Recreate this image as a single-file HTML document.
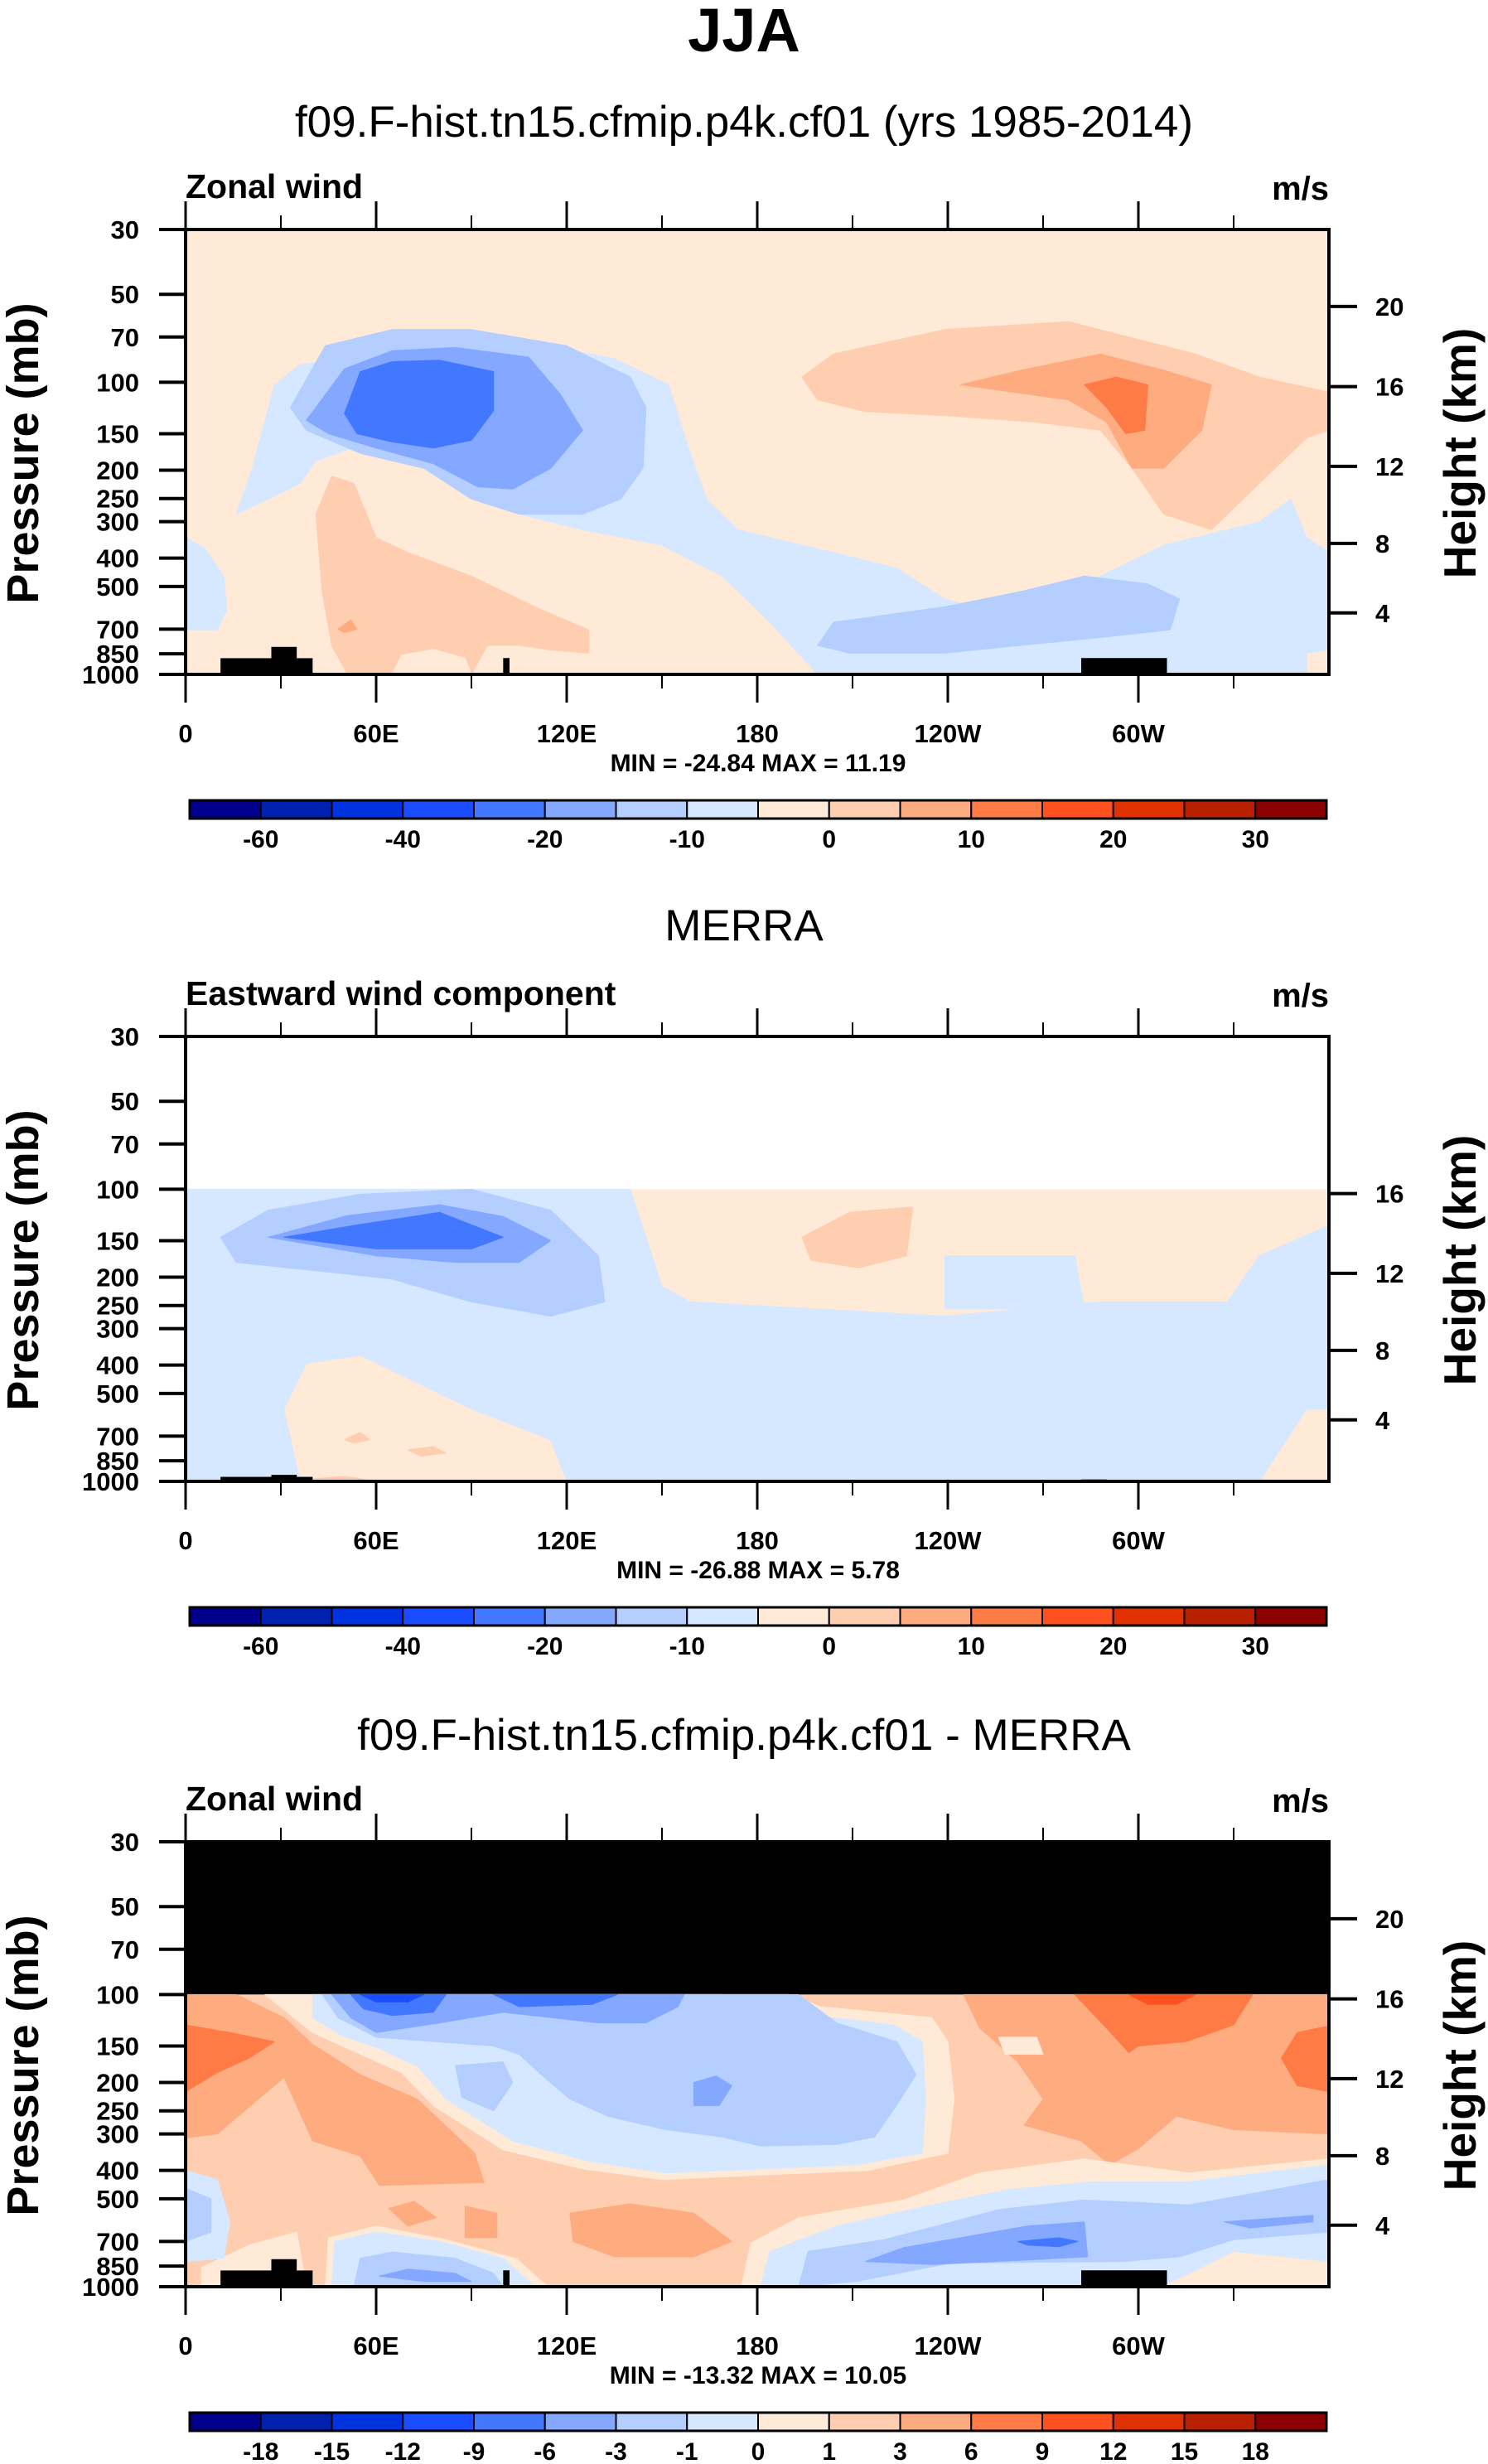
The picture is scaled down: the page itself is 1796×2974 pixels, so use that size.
<!DOCTYPE html>
<html><head><meta charset="utf-8"><title>JJA Zonal wind</title>
<style>
html,body{margin:0;padding:0;background:#fff;}
svg{display:block;font-family:"Liberation Sans",Arial,sans-serif;}
</style></head>
<body>
<svg id="fig" width="1796" height="2974" viewBox="0 0 1796 2974" xmlns="http://www.w3.org/2000/svg">
<text x="898" y="62" text-anchor="middle" font-weight="bold" font-size="74">JJA</text>
<g id="panels"></g>
</svg>
<script>
// ----- data -----
const levelColors=["#00008c","#0020b0","#0033e0","#1a4dff","#4178ff","#84a8ff","#b3ceff","#d5e8ff","#ffead8","#ffcdb0","#ffab80","#ff7b45","#ff5020","#e03200","#b82000","#8b0000"];
const pressureTicks=[30,50,70,100,150,200,250,300,400,500,700,850,1000];
const heightTicksKm=[20,16,12,8,4];
const heightTicksP=[55,103.5,194,356,616];
const lonTicks=[0,60,120,180,240,300];
const lonTickLabels=["0","60E","120E","180","120W","60W"];
const lonMinorTicks=[30,90,150,210,270,330];
const cbarLabels1=["-60","-40","-20","-10","0","10","20","30"];
const cbarLabels3=["-18","-15","-12","-9","-6","-3","-1","0","1","3","6","9","12","15","18"];
const topoA=[[11,40,880],[27,35,805],[100,102,879],[282,309,879]];
const topoB=[[11,40,965],[27,35,950],[282,290,985]];
// contour regions: [level, [[lon,p],...]]
const p1Regions=[
[7,[[0,340],[6,370],[12,460],[13,600],[10,704],[0,704]]],
[7,[[16,283],[21,197],[28,102],[36,87],[70,77],[90,69],[105,72],[135,83],[152,102],[159,175],[164,251],[174,320],[204,383],[224,433],[239,552],[258,624],[283,490],[308,361],[338,301],[348,251],[353,340],[360,383],[360,825],[353,846],[353,1000],[199,1000],[184,663],[169,461],[150,361],[125,320],[105,283],[90,222],[75,175],[65,165],[51,170],[41,186],[36,222],[26,251]]],
[6,[[33,122],[44,75],[65,66],[90,66],[120,75],[140,96],[145,122],[144,197],[137,251],[125,283],[105,283],[90,251],[75,197],[55,175],[38,146]]],
[6,[[199,795],[204,663],[239,587],[263,520],[283,461],[303,490],[313,552],[310,704],[288,748],[263,795],[239,846],[209,846]]],
[5,[[38,135],[50,90],[65,78],[85,76],[108,82],[118,110],[125,146],[115,197],[103,232],[92,228],[78,190],[60,168],[45,150]]],
[4,[[50,128],[55,92],[65,85],[80,84],[97,92],[97,125],[90,158],[78,168],[65,160],[54,150]]],
[9,[[194,96],[204,80],[239,66],[278,62],[318,80],[338,96],[360,108],[360,146],[353,155],[333,251],[323,320],[308,283],[298,197],[288,146],[268,137],[239,130],[214,126],[199,115]]],
[9,[[41,283],[46,210],[53,222],[60,340],[70,383],[90,461],[110,587],[127,704],[127,846],[115,825],[105,795],[95,795],[90,1000],[51,1000],[46,795],[43,520]]],
[8,[[65,1000],[68,860],[78,820],[88,880],[90,1000]]],
[10,[[48,700],[52,650],[54,700],[50,720]]],
[10,[[244,102],[263,91],[288,80],[308,91],[323,102],[320,146],[308,197],[298,197],[290,137],[278,115]]],
[11,[[283,102],[293,96],[303,102],[302,146],[296,150],[290,122]]]
];
const p2Regions=[
[7,[[0,100],[140,100],[145,146],[150,215],[159,243],[199,257],[239,272],[288,243],[328,243],[338,169],[360,133],[360,565],[353,565],[338,1000],[120,1000],[115,720],[90,565],[70,444],[55,370],[38,395],[31,565],[36,1000],[0,1000]]],
[7,[[239,169],[280,169],[283,257],[239,257]]],
[9,[[194,146],[209,120],[229,115],[227,169],[212,186],[197,175]]],
[6,[[11,146],[26,118],[55,104],[90,100],[115,118],[130,169],[132,243],[115,272],[90,243],[65,203],[41,190],[16,178]]],
[5,[[26,146],[51,123],[80,113],[100,124],[115,150],[105,178],[85,178],[60,169]]],
[4,[[31,146],[55,132],[80,120],[100,146],[90,160],[60,160]]],
[9,[[50,720],[55,680],[58,720],[53,740]]],
[9,[[70,780],[78,760],[82,800],[74,820]]],
[9,[[40,980],[50,960],[58,990],[45,1000]]]
];
const p3Regions=[
[10,[[0,100],[16,100],[31,120],[40,148],[55,188],[73,228],[91,349],[94,440],[61,450],[55,357],[40,317],[31,192],[10,300],[0,310]]],
[11,[[0,127],[14,135],[28,145],[20,165],[10,185],[0,215]]],
[10,[[245,100],[360,100],[360,300],[330,290],[312,261],[300,337],[291,383],[282,317],[264,280],[270,228],[262,170],[250,130]]],
[8,[[256,140],[268,140],[270,160],[258,160]]],
[11,[[280,100],[336,100],[330,127],[315,145],[300,150],[297,158],[291,134]]],
[11,[[360,128],[350,135],[345,165],[350,205],[360,215]]],
[12,[[297,100],[318,100],[312,108],[303,108]]],
[8,[[25,100],[190,100],[200,110],[235,120],[240,145],[242,228],[240,349],[215,400],[181,415],[150,430],[125,395],[100,340],[78,240],[68,185],[55,160],[40,135]]],
[7,[[40,100],[169,100],[181,112],[223,127],[232,145],[233,228],[232,349],[211,383],[181,395],[151,408],[127,372],[103,317],[82,228],[73,176],[61,153],[49,138],[40,120]]],
[6,[[43,100],[193,100],[205,125],[224,145],[230,188],[224,238],[217,307],[205,326],[181,330],[169,307],[151,290],[133,261],[121,228],[112,188],[105,160],[97,150],[60,140],[48,120]]],
[7,[[80,165],[95,160],[108,200],[100,280],[84,235]]],
[6,[[85,175],[100,170],[103,200],[97,250],[87,225]]],
[5,[[46,100],[157,100],[155,110],[145,125],[130,125],[100,115],[80,125],[60,135],[52,120]]],
[5,[[160,200],[167,190],[172,205],[168,240],[160,240]]],
[4,[[52,100],[82,100],[78,115],[65,118],[56,112]]],
[4,[[97,100],[136,100],[128,108],[105,110]]],
[3,[[55,100],[75,100],[70,106],[60,106]]],
[8,[[175,1000],[178,709],[193,580],[226,505],[250,408],[283,365],[316,408],[360,365],[360,1000]]],
[7,[[181,1000],[184,757],[205,620],[235,525],[259,465],[286,437],[316,437],[360,383],[360,820],[330,757],[316,900],[307,1000]]],
[6,[[193,1000],[196,757],[220,690],[256,545],[283,505],[316,525],[360,430],[360,650],[330,690],[313,790],[295,820],[241,830],[211,960]]],
[5,[[214,820],[226,735],[265,620],[283,600],[284,790],[265,810],[235,840]]],
[5,[[327,600],[355,570],[355,600],[335,630]]],
[4,[[262,700],[275,680],[281,700],[275,730],[265,720]]],
[8,[[5,860],[20,720],[35,650],[38,1000],[5,1000]]],
[7,[[0,400],[10,430],[14,600],[12,800],[0,820]]],
[6,[[0,460],[8,500],[8,650],[0,700]]],
[8,[[44,1000],[45,680],[60,620],[82,690],[104,800],[114,1000]]],
[7,[[46,1000],[47,700],[60,650],[80,700],[100,800],[110,1000]]],
[6,[[53,1000],[55,800],[65,760],[85,800],[97,900],[100,1000]]],
[5,[[61,920],[70,870],[85,900],[90,960],[75,960]]],
[10,[[121,560],[140,520],[160,560],[172,700],[160,790],[135,790],[122,700]]],
[10,[[64,540],[72,510],[79,580],[70,620]]],
[10,[[88,530],[98,560],[98,680],[88,680]]]
];

// ----- layout -----
const NS="http://www.w3.org/2000/svg";
const X0=224,W=1380,H=537;
const CB_X=229,CB_W=1372,CB_H=22;
function mk(tag,attrs,parent){const e=document.createElementNS(NS,tag);for(const k in attrs)e.setAttribute(k,attrs[k]);parent.appendChild(e);return e;}
function xs(lon){return X0+lon/360*W;}
function ysFor(T){return p=>T+Math.log(p/30)/Math.log(1000/30)*H;}
const root=document.getElementById('panels');

function drawPanel(cfg){
  const T=cfg.top, ys=ysFor(T);
  const g=mk('g',{},root);
  
  
  if(cfg.title){const t=mk('text',{x:898,y:cfg.titleY,'text-anchor':'middle','font-size':53},g);t.textContent=cfg.title;
    }
  const lt=mk('text',{x:X0,y:T-38,'font-size':41,'font-weight':'bold'},g);lt.textContent=cfg.left;
  
  const rt=mk('text',{x:X0+W,y:T-36,'font-size':40,'font-weight':'bold','text-anchor':'end'},g);rt.textContent='m/s';
  
  const clipId='clip'+T;
  const cp=mk('clipPath',{id:clipId},g);mk('rect',{x:X0,y:T,width:W,height:H},cp);
  const field=mk('g',{'clip-path':'url(#'+clipId+')'},g);
  
  if(cfg.topFill){const r=mk('rect',{x:X0,y:T,width:W,height:ys(100)-T,fill:cfg.topFill},field);
    }
  const bg=mk('rect',{x:X0,y:ys(100),width:W,height:T+H-ys(100),fill:levelColors[cfg.bg]},field);
  
  if(cfg.full){bg.setAttribute('y',T);bg.setAttribute('height',H);}
  cfg.regions.forEach(r=>{
    const pts=r[1].map(q=>xs(q[0]).toFixed(1)+','+ys(q[1]).toFixed(1)).join(' ');
    const pg=mk('polygon',{points:pts,fill:levelColors[r[0]],'stroke':levelColors[r[0]],'stroke-width':1,'stroke-linejoin':'round'},field);
    
    
  });
  cfg.topo.forEach(t=>{const r=mk('rect',{x:xs(t[0]),y:ys(t[2]),width:xs(t[1])-xs(t[0]),height:T+H-ys(t[2]),fill:'#000'},field);
    });
  const box=mk('rect',{x:X0,y:T,width:W,height:H,fill:'none',stroke:'#000','stroke-width':4},g);
  
  lonTicks.forEach((L,i)=>{
    mk('line',{x1:xs(L),x2:xs(L),y1:T,y2:T-34,stroke:'#000','stroke-width':3},g);
    mk('line',{x1:xs(L),x2:xs(L),y1:T+H,y2:T+H+34,stroke:'#000','stroke-width':3},g);
    const t=mk('text',{x:xs(L),y:T+H+82,'text-anchor':'middle','font-size':31,'font-weight':'bold'},g);t.textContent=lonTickLabels[i];
    
  });
  lonMinorTicks.forEach(L=>{
    mk('line',{x1:xs(L),x2:xs(L),y1:T,y2:T-17,stroke:'#000','stroke-width':2},g);
    mk('line',{x1:xs(L),x2:xs(L),y1:T+H,y2:T+H+17,stroke:'#000','stroke-width':2},g);
  });
  pressureTicks.forEach(p=>{
    mk('line',{x1:X0-32,x2:X0,y1:ys(p),y2:ys(p),stroke:'#000','stroke-width':4},g);
    const t=mk('text',{x:168,y:ys(p)+11,'text-anchor':'end','font-size':31,'font-weight':'bold'},g);t.textContent=p;
    
  });
  heightTicksKm.forEach((z,i)=>{
    if(cfg.noZ20&&z===20)return;
    const y=ys(heightTicksP[i]);
    mk('line',{x1:X0+W,x2:X0+W+34,y1:y,y2:y,stroke:'#000','stroke-width':4},g);
    const t=mk('text',{x:1660,y:y+11,'font-size':31,'font-weight':'bold'},g);t.textContent=z;
    
  });
  const ya=mk('text',{x:0,y:0,'font-size':54,'font-weight':'bold','text-anchor':'middle',transform:'translate(46,'+(T+270)+') rotate(-90)'},g);ya.textContent='Pressure (mb)';
  
  const yb=mk('text',{x:0,y:0,'font-size':55,'font-weight':'bold','text-anchor':'middle',transform:'translate(1781,'+(T+270)+') rotate(-90)'},g);yb.textContent='Height (km)';
  
  const mm=mk('text',{x:915,y:T+H+117,'text-anchor':'middle','font-size':30,'font-weight':'bold','xml:space':'preserve'},g);mm.textContent=cfg.minmax;
  
  const cy=T+H+152;
  const cb=mk('g',{},g);
  const bw=CB_W/16;
  levelColors.forEach((c,i)=>{const r=mk('rect',{x:CB_X+i*bw,y:cy,width:bw,height:CB_H,fill:c,stroke:'#000','stroke-width':2},cb);
    });
  mk('rect',{x:CB_X,y:cy,width:CB_W,height:CB_H,fill:'none',stroke:'#000','stroke-width':3},cb);
  cfg.cbLabels.forEach((s,i)=>{const k=cfg.cbStep*i+1;
    const t=mk('text',{x:CB_X+k*bw,y:cy+57,'text-anchor':'middle','font-size':30,'font-weight':'bold'},cb);t.textContent=s;
    });
}
drawPanel({name:'panel-model',top:277,title:'f09.F-hist.tn15.cfmip.p4k.cf01 (yrs 1985-2014)',titleY:165,left:'Zonal wind',bg:8,full:true,regions:p1Regions,topo:topoA,minmax:'MIN = -24.84  MAX =  11.19',cbLabels:cbarLabels1,cbStep:2});
drawPanel({name:'panel-merra',top:1251,title:'MERRA',titleY:1135,left:'Eastward wind component',bg:8,regions:p2Regions,topo:topoB,minmax:'MIN = -26.88  MAX =   5.78',cbLabels:cbarLabels1,cbStep:2,noZ20:true});
drawPanel({name:'panel-difference',top:2223,title:'f09.F-hist.tn15.cfmip.p4k.cf01 - MERRA',titleY:2112,left:'Zonal wind',bg:9,topFill:'#000',regions:p3Regions,topo:topoA,minmax:'MIN = -13.32  MAX =  10.05',cbLabels:cbarLabels3,cbStep:1});
</script>
</body></html>
